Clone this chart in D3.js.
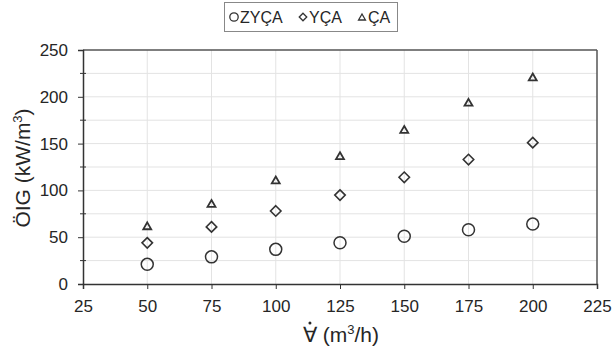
<!DOCTYPE html>
<html>
<head>
<meta charset="utf-8">
<script src="https://cdn.jsdelivr.net/npm/d3@7"></script>
<style>
  body { margin: 0; background: #fff; }
  text { font-family: "Liberation Sans", Arial, sans-serif; fill: #262626; }
</style>
</head>
<body>
<svg id="chart" width="614" height="356"></svg>
<script>
const svg = d3.select('#chart');

// data
const flow = [50, 75, 100, 125, 150, 175, 200];
const zyca = [21, 29, 37, 44, 51, 58, 64];
const yca = [44, 61, 78, 95, 114, 133, 151];
const ca = [62, 86, 111, 137, 165, 194, 221];
const seriesNames = ['ZYÇA', 'YÇA', 'ÇA'];
const xTicks = [25, 50, 75, 100, 125, 150, 175, 200, 225];
const yTicks = [0, 50, 100, 150, 200, 250];

const margin = { top: 50, right: 17, bottom: 72, left: 83 };
const width = +svg.attr('width');
const height = +svg.attr('height');
const innerWidth = width - margin.left - margin.right;
const innerHeight = height - margin.top - margin.bottom;

const x = d3.scaleLinear().domain([25, 225]).range([0, innerWidth]);
const y = d3.scaleLinear().domain([0, 250]).range([innerHeight, 0]);

const g = svg.append('g').attr('transform', `translate(${margin.left},${margin.top})`);

// gridlines (every 25 both ways)
g.selectAll('.vgrid').data(d3.range(50, 225, 25)).enter().append('line')
  .attr('x1', d => x(d)).attr('x2', d => x(d))
  .attr('y1', 0).attr('y2', innerHeight)
  .attr('stroke', '#e3e3e3').attr('stroke-width', 1);
g.selectAll('.hgrid').data(d3.range(25, 250, 25)).enter().append('line')
  .attr('x1', 0).attr('x2', innerWidth)
  .attr('y1', d => y(d)).attr('y2', d => y(d))
  .attr('stroke', '#e3e3e3').attr('stroke-width', 1);

// frame top/right
g.append('line').attr('x1', 0).attr('x2', innerWidth).attr('y1', 0).attr('y2', 0)
  .attr('stroke', '#555').attr('stroke-width', 1.5);
g.append('line').attr('x1', innerWidth).attr('x2', innerWidth).attr('y1', 0).attr('y2', innerHeight)
  .attr('stroke', '#555').attr('stroke-width', 1.5);

// axes
const xAxis = d3.axisBottom(x).tickValues(xTicks).tickSize(5).tickPadding(11);
const yAxis = d3.axisLeft(y).tickValues(yTicks).tickSize(5).tickPadding(10);

const gx = g.append('g').attr('transform', `translate(0,${innerHeight})`).call(xAxis);
const gy = g.append('g').call(yAxis);

// minor y ticks
g.selectAll('.minor').data([25, 75, 125, 175, 225]).enter().append('line')
  .attr('x1', -3).attr('x2', 3)
  .attr('y1', d => y(d)).attr('y2', d => y(d))
  .attr('stroke', '#333').attr('stroke-width', 1);

[gx, gy].forEach(a => {
  a.select('.domain').attr('stroke', '#333').attr('stroke-width', 1.5);
  a.selectAll('.tick line').attr('stroke', '#333').attr('stroke-width', 1);
  a.selectAll('.tick text')
    .style('font-family', '"Liberation Sans", Arial, sans-serif')
    .style('font-size', '17px').attr('fill', '#262626');
});

// markers
const stroke = '#333';
const pts = (vals) => flow.map((f, i) => ({ f: f, v: vals[i] }));

g.selectAll('.zyca').data(pts(zyca)).enter().append('circle')
  .attr('cx', d => x(d.f)).attr('cy', d => y(d.v)).attr('r', 6)
  .attr('fill', 'none').attr('stroke', stroke).attr('stroke-width', 1.5);

const diamond = d3.symbol().type(d3.symbolDiamond2).size(70);
g.selectAll('.yca').data(pts(yca)).enter().append('path')
  .attr('d', diamond)
  .attr('transform', d => `translate(${x(d.f)},${y(d.v)})`)
  .attr('fill', 'none').attr('stroke', stroke).attr('stroke-width', 1.6);

const tri = d3.symbol().type(d3.symbolTriangle2).size(45);
g.selectAll('.ca').data(pts(ca)).enter().append('path')
  .attr('d', tri)
  .attr('transform', d => `translate(${x(d.f)},${y(d.v) + 1})`)
  .attr('fill', 'none').attr('stroke', stroke).attr('stroke-width', 1.8);

// axis titles
const xTitle = svg.append('text')
  .attr('x', 341).attr('y', 342)
  .attr('text-anchor', 'middle')
  .style('font-size', '21px')
  .html('∀ (m<tspan dy="-8" style="font-size:13px">3</tspan><tspan dy="8">/h)</tspan>');

// dot above the volume sign
const ext = xTitle.node().getExtentOfChar(0);
svg.append('circle')
  .attr('cx', ext.x + ext.width / 2)
  .attr('cy', 342 - 19)
  .attr('r', 1.5)
  .attr('fill', '#262626');

svg.append('text')
  .attr('transform', 'translate(30,168) rotate(-90)')
  .attr('text-anchor', 'middle')
  .style('font-size', '21px')
  .html('ÖIG (kW/m<tspan dy="-8" style="font-size:13px">3</tspan><tspan dy="8">)</tspan>');

// legend
const legend = svg.append('g');
legend.append('rect')
  .attr('x', 224.5).attr('y', 2.5).attr('width', 173).attr('height', 29)
  .attr('fill', '#fff').attr('stroke', '#888').attr('stroke-width', 1);

const legX = [234, 303, 362];
const legendSymbols = [
  s => s.append('circle').attr('r', 4.2),
  s => s.append('path').attr('d', d3.symbol().type(d3.symbolDiamond2).size(36)),
  s => s.append('path').attr('d', d3.symbol().type(d3.symbolTriangle2).size(34)).attr('transform', 'translate(0,1)')
];
seriesNames.forEach((name, i) => {
  const item = legend.append('g').attr('transform', `translate(${legX[i]},17)`);
  legendSymbols[i](item).attr('fill', 'none').attr('stroke', stroke).attr('stroke-width', 1.3);
  item.append('text').attr('x', 6).attr('y', 6)
    .style('font-size', '16px').text(name);
});
</script>
</body>
</html>
